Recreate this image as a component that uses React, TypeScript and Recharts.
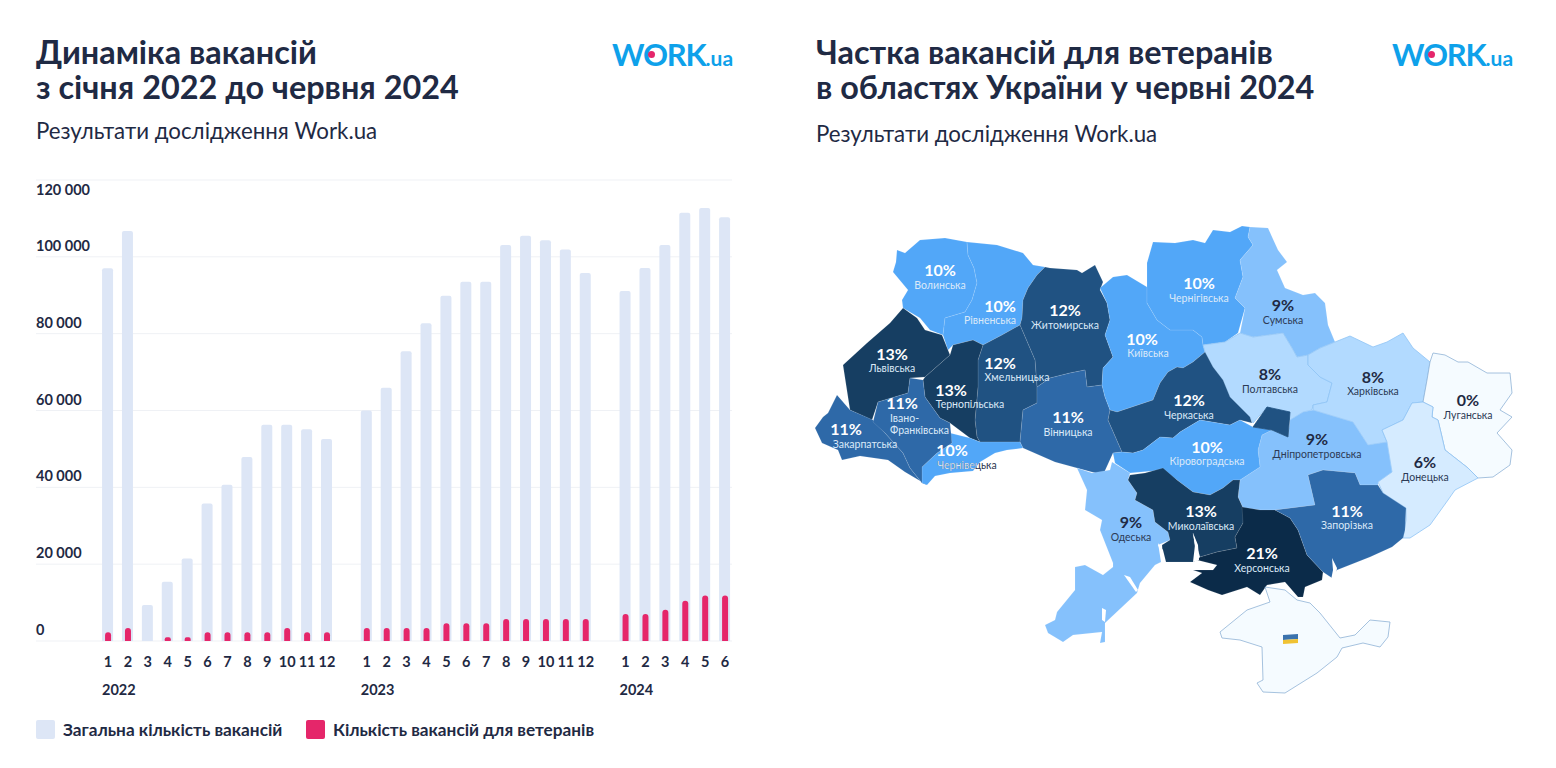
import { BarChart, Bar, XAxis, YAxis, CartesianGrid, ScatterChart, Scatter } from "recharts";

const FONT = "Lato, 'Open Sans', sans-serif";
const INK = "#1f2a44";

// left chart
const years = [2022, 2023, 2024];
const totals2022 = [97000, 106700, 9350, 15400, 21500, 35800, 40700, 47900, 56300, 56300, 55100, 52600];
const totals2023 = [60000, 65900, 75400, 82700, 89900, 93500, 93500, 103100, 105500, 104300, 101900, 95800];
const totals2024 = [91100, 97100, 103100, 111500, 112700, 110300];
const veterans2022 = [2250, 3380, 0, 950, 950, 2250, 2250, 2250, 2250, 3380, 2250, 2250];
const veterans2023 = [3400, 3400, 3400, 3400, 4590, 4590, 4590, 5700, 5700, 5700, 5700, 5700];
const veterans2024 = [7000, 7000, 8140, 10480, 11860, 11860];
const yTicks = [0, 20000, 40000, 60000, 80000, 100000, 120000];
const seriesNames = ["Загальна кількість вакансій", "Кількість вакансій для ветеранів"];

const allTotals = [totals2022, totals2023, totals2024];
const allVeterans = [veterans2022, veterans2023, veterans2024];

const rows: { slot: number; month: number; year: number; total: number; veterans: number }[] = [];
let nextSlot = 0;
allTotals.forEach((list, y) => {
  list.forEach((total, m) => {
    rows.push({ slot: nextSlot++, month: m + 1, year: years[y], total, veterans: allVeterans[y][m] });
  });
  nextSlot++; // empty slot between years
});
const slotDomain = [-3.618, 31.35];

function formatThousands(v: number) {
  return v === 0 ? "0" : `${v / 1000} 000`;
}

function YTick({ y, payload }: any) {
  // the top label sits under its grid line, the others above
  const dy = payload.value === 120000 ? 10 : -11;
  return (
    <text x={36} y={y + dy} dy={5} fontFamily={FONT} fontSize={14.5} fontWeight={700} fill={INK}>
      {formatThousands(payload.value)}
    </text>
  );
}

function MonthTick({ x, payload }: any) {
  const row = rows.find((r) => r.slot === payload.value);
  if (!row) return null;
  return (
    <g>
      <text x={x} y={667} textAnchor="middle" fontFamily={FONT} fontSize={14.5} fontWeight={700} fill={INK}>
        {row.month}
      </text>
      {row.month === 1 && (
        <text x={x - 6} y={695} fontFamily={FONT} fontSize={14.5} fontWeight={700} fill={INK}>
          {row.year}
        </text>
      )}
    </g>
  );
}

// map outlines, in map units
const volyn = [[897,250],[905,253],[920,240],[945,238],[967,242],[968,255],[974,268],[977,283],[972,300],[965,312],[945,318],[943,335],[930,330],[920,318],[903,308],[902,300],[908,290],[893,272],[896,262]];
const rivne = [[967,242],[997,245],[1023,253],[1033,265],[1045,267],[1037,275],[1028,288],[1023,300],[1022,318],[1020,325],[1002,335],[983,345],[973,340],[953,345],[948,350],[943,335],[945,318],[965,312],[972,300],[977,283],[974,268],[968,255]];
const zhytomyr = [[1045,267],[1050,268],[1077,270],[1082,273],[1095,265],[1103,282],[1100,290],[1107,303],[1110,320],[1105,335],[1113,357],[1103,368],[1102,385],[1087,387],[1085,370],[1070,373],[1050,378],[1037,387],[1035,360],[1020,325],[1022,318],[1023,300],[1028,288],[1037,275]];
const khmelnytskyi = [[1020,325],[1002,335],[983,345],[978,360],[978,387],[975,420],[977,437],[980,442],[1020,442],[1023,410],[1037,403],[1037,387],[1035,360]];
const vinnytsia = [[1037,387],[1050,378],[1070,373],[1085,370],[1087,387],[1102,385],[1105,397],[1110,410],[1108,420],[1122,452],[1113,453],[1103,475],[1077,468],[1055,462],[1023,448],[1020,442],[1023,410],[1037,403]];
const lviv = [[903,308],[917,318],[925,330],[942,335],[950,355],[925,377],[910,378],[908,393],[878,402],[872,420],[850,410],[843,365],[867,343],[890,323]];
const ternopil = [[950,355],[953,345],[973,340],[983,345],[978,360],[978,387],[975,420],[977,437],[980,442],[970,438],[950,423],[940,418],[925,397],[923,380],[925,377]];
const frankivsk = [[910,378],[923,380],[925,397],[940,418],[950,423],[952,443],[937,453],[922,467],[922,483],[910,468],[903,453],[885,433],[873,422],[878,402],[908,393]];
const zakarpattia = [[837,395],[850,410],[873,420],[885,433],[903,453],[910,468],[922,483],[927,485],[905,472],[888,460],[860,456],[842,460],[838,450],[822,443],[815,428],[823,417],[828,413]];
const chernivtsi = [[950,433],[970,438],[980,442],[1020,442],[1023,448],[1007,450],[995,453],[980,462],[973,471],[950,473],[935,476],[927,485],[922,483],[922,467],[937,453],[952,443]];
const kyiv = [[1100,288],[1113,277],[1127,275],[1147,287],[1147,303],[1157,320],[1170,330],[1193,330],[1202,337],[1203,345],[1205,352],[1193,362],[1183,368],[1177,367],[1168,372],[1160,383],[1153,400],[1138,405],[1117,412],[1110,410],[1105,397],[1102,385],[1103,368],[1113,357],[1105,335],[1110,320],[1107,303]];
const chernihiv = [[1147,263],[1153,242],[1175,243],[1193,240],[1205,243],[1213,230],[1230,232],[1242,226],[1250,227],[1248,237],[1253,245],[1240,260],[1243,277],[1235,298],[1245,308],[1238,333],[1225,342],[1203,345],[1202,337],[1193,330],[1170,330],[1157,320],[1147,303],[1147,287]];
const sumy = [[1250,227],[1268,228],[1278,250],[1287,262],[1277,270],[1285,288],[1303,295],[1315,293],[1325,303],[1328,325],[1335,342],[1320,348],[1308,355],[1297,357],[1292,348],[1283,333],[1253,337],[1240,333],[1245,308],[1235,298],[1243,277],[1240,260],[1253,245],[1248,237]];
const poltava = [[1203,345],[1225,342],[1240,333],[1253,337],[1283,333],[1292,348],[1297,357],[1308,355],[1308,365],[1320,377],[1332,383],[1327,402],[1313,405],[1312,410],[1303,412],[1290,420],[1267,407],[1253,423],[1250,417],[1230,397],[1223,380],[1213,367],[1205,352]];
const kharkiv = [[1308,355],[1320,348],[1335,342],[1350,336],[1373,347],[1387,342],[1403,333],[1413,348],[1430,362],[1427,380],[1423,402],[1412,403],[1403,420],[1382,430],[1387,442],[1368,445],[1353,422],[1313,410],[1313,405],[1327,402],[1332,383],[1320,377],[1308,365]];
const luhansk = [[1430,362],[1433,353],[1445,355],[1458,362],[1468,362],[1487,373],[1510,373],[1512,393],[1500,410],[1512,417],[1497,433],[1512,450],[1510,465],[1493,477],[1478,478],[1468,468],[1445,450],[1442,437],[1438,420],[1432,417],[1433,407],[1423,402],[1427,380]];
const donetsk = [[1423,402],[1433,407],[1432,417],[1438,420],[1442,437],[1445,450],[1468,468],[1478,478],[1455,490],[1448,500],[1430,525],[1410,538],[1403,538],[1406,520],[1406,508],[1383,493],[1378,482],[1392,472],[1387,442],[1382,430],[1403,420],[1412,403]];
const dnipro = [[1290,420],[1303,412],[1313,410],[1353,422],[1368,445],[1387,442],[1392,472],[1378,482],[1378,485],[1360,485],[1355,473],[1323,470],[1308,475],[1315,505],[1275,510],[1260,510],[1243,508],[1238,497],[1240,480],[1260,467],[1258,450],[1262,435],[1272,430],[1288,437]];
const cherkasy = [[1117,412],[1138,405],[1153,400],[1160,383],[1168,372],[1177,367],[1183,368],[1193,362],[1205,352],[1213,367],[1223,380],[1230,397],[1250,417],[1252,423],[1240,420],[1230,425],[1200,420],[1180,432],[1173,438],[1160,437],[1143,450],[1133,453],[1122,452],[1108,420],[1110,410]];
const cherkasyEast = [[1267,407],[1290,412],[1288,437],[1272,430],[1253,427]];
const kirovohrad = [[1122,452],[1113,453],[1115,463],[1130,473],[1163,470],[1177,480],[1193,492],[1210,495],[1223,488],[1233,480],[1240,480],[1260,467],[1258,450],[1262,435],[1272,430],[1253,427],[1240,420],[1230,425],[1200,420],[1180,432],[1173,438],[1160,437],[1143,450],[1133,453]];
const odesa = [[1077,468],[1092,473],[1110,470],[1112,462],[1130,473],[1128,480],[1137,493],[1135,500],[1153,510],[1155,522],[1168,532],[1170,540],[1158,545],[1165,560],[1155,565],[1140,583],[1137,593],[1105,623],[1105,642],[1100,643],[1102,632],[1073,635],[1063,642],[1048,633],[1045,625],[1055,620],[1057,612],[1075,590],[1075,567],[1085,565],[1103,575],[1113,567],[1113,563],[1100,530],[1102,520],[1085,510],[1087,490]];
const mykolaiv = [[1130,475],[1145,473],[1163,468],[1177,480],[1193,492],[1210,495],[1223,488],[1233,480],[1240,480],[1238,497],[1243,508],[1243,523],[1235,537],[1237,548],[1217,552],[1200,557],[1193,533],[1197,560],[1193,562],[1163,562],[1162,545],[1170,540],[1168,532],[1155,522],[1153,510],[1135,500],[1137,493],[1128,480]];
const kherson = [[1242,507],[1260,510],[1275,510],[1290,518],[1298,530],[1307,555],[1323,572],[1322,580],[1305,587],[1303,597],[1298,597],[1285,582],[1267,585],[1260,595],[1247,587],[1222,595],[1208,590],[1190,582],[1202,573],[1193,570],[1213,570],[1217,565],[1197,560],[1200,557],[1217,552],[1237,548],[1235,537],[1243,523]];
const zaporizhzhia = [[1275,510],[1315,505],[1308,475],[1323,470],[1355,473],[1360,485],[1378,485],[1383,493],[1406,508],[1405,530],[1403,538],[1392,547],[1370,557],[1337,570],[1332,578],[1323,572],[1307,555],[1298,530],[1290,518]];
const crimea = [[1265,587],[1270,602],[1247,610],[1220,632],[1222,638],[1240,640],[1262,647],[1263,680],[1257,683],[1263,692],[1285,693],[1317,673],[1337,657],[1342,648],[1363,643],[1380,647],[1388,637],[1390,622],[1370,620],[1355,635],[1340,638],[1320,613],[1310,603],[1297,600],[1285,590]];
const flagBlue = [[1283,635],[1298,634],[1298,639],[1283,640]];
const flagYellow = [[1283,640],[1298,639],[1298,643],[1283,644]];
// estuaries cut out of the coast
const bugLiman = [[1193,533],[1198,545],[1199,560],[1193,562],[1195,545]];
const berezanLiman = [[1158,543],[1163,550],[1166,562],[1161,562]];
const tylihulLiman = [[1124,575],[1130,577],[1138,590],[1136,592]];
const dniesterLiman = [[1102,608],[1106,610],[1105,622],[1102,620]];
const molochnyLiman = [[1332,558],[1337,568],[1335,582],[1331,580],[1333,570]];

const regionNames = ["Волинська", "Рівненська", "Житомирська", "Хмельницька", "Вінницька", "Львівська", "Тернопільська", "Закарпатська", "Чернівецька", "Київська", "Чернігівська", "Сумська", "Полтавська", "Харківська", "Луганська", "Донецька", "Дніпропетровська", "Черкаська", "Кіровоградська", "Одеська", "Миколаївська", "Херсонська", "Запорізька"];
const regionShares = [10, 10, 12, 12, 11, 13, 13, 11, 10, 10, 10, 9, 8, 8, 0, 6, 9, 12, 10, 9, 13, 21, 11];
const regionOutlines = [volyn, rivne, zhytomyr, khmelnytskyi, vinnytsia, lviv, ternopil, zakarpattia, chernivtsi, kyiv, chernihiv, sumy, poltava, kharkiv, luhansk, donetsk, dnipro, cherkasy, kirovohrad, odesa, mykolaiv, kherson, zaporizhzhia];
const shareAnchors = [[940,270],[1000,306],[1065,310],[1000,363],[1068,417],[892,354],[951,390],[846,429],[952,450],[1142,339],[1199,283],[1283,305],[1270,374],[1373,377],[1468,400],[1425,462],[1317,439],[1189,400],[1207,447],[1131,522],[1201,511],[1262,553],[1347,511]];
const nameAnchors = [[940,285],[990,320],[1065,325],[1017,377],[1068,432],[892,368],[970,404],[865,444],[967,465],[1148,353],[1199,298],[1283,320],[1270,389],[1373,391],[1468,415],[1425,477],[1317,454],[1189,415],[1207,461],[1131,537],[1201,526],[1262,568],[1347,525]];
// this name runs off its region and turns dark where it leaves the map
const overflowingName = "Чернівецька";

const shareColors: Record<number, string> = {
  0: "#f5fbff",
  6: "#d5ebff",
  8: "#b2daff",
  9: "#85c1fc",
  10: "#52a7f8",
  11: "#2e69a8",
  12: "#205282",
  13: "#163e62",
  21: "#0b2b49",
};

type MapRow = { x: number; y: number; outline: number[][]; share: number; name?: string; nameX?: number; nameY?: number; lines?: string[] };

const mapRows: MapRow[] = regionNames.map((name, i) => ({
  x: shareAnchors[i][0],
  y: shareAnchors[i][1],
  outline: regionOutlines[i],
  share: regionShares[i],
  name,
  nameX: nameAnchors[i][0],
  nameY: nameAnchors[i][1],
}));
// Івано-Франківська wraps on two lines, so it is added by itself
mapRows.push({ x: 902, y: 403, outline: frankivsk, share: 11, name: "Івано-Франківська", nameX: 890, nameY: 418, lines: ["Івано-", "Франківська"] });
const extraShapes = [
  { x: 1280, y: 420, outline: cherkasyEast, fill: shareColors[12], stroke: shareColors[12] },
  { x: 1300, y: 640, outline: crimea, fill: "#f5fbff", stroke: "#8fb3d6" },
  { x: 1290, y: 637, outline: flagBlue, fill: "#3b72ad", stroke: "none" },
  { x: 1290, y: 641, outline: flagYellow, fill: "#f0c233", stroke: "none" },
  { x: 1195, y: 550, outline: bugLiman, fill: "#ffffff", stroke: "none" },
  { x: 1161, y: 552, outline: berezanLiman, fill: "#ffffff", stroke: "none" },
  { x: 1130, y: 583, outline: tylihulLiman, fill: "#ffffff", stroke: "none" },
  { x: 1104, y: 615, outline: dniesterLiman, fill: "#ffffff", stroke: "none" },
  { x: 1334, y: 570, outline: molochnyLiman, fill: "#ffffff", stroke: "none" },
];
const overflowRows = mapRows.filter((r) => r.name === overflowingName);

const mapBox = { left: 800, top: 200, width: 756, height: 520 };

function outlinePath(outline: number[][], cx: number, cy: number, ax: number, ay: number) {
  // the axes run 1:1 here, so offsets from the point stay in pixels
  return outline.map((p, i) => `${i ? "L" : "M"}${cx + p[0] - ax},${cy + p[1] - ay}`).join("") + "Z";
}

function RegionShape({ cx, cy, payload }: any) {
  const fill = payload.fill ?? shareColors[payload.share];
  const stroke = payload.stroke ?? (payload.share === 0 ? "#8fb3d6" : payload.share <= 8 ? "#8fc4f5" : "rgba(255,255,255,0.14)");
  return <path d={outlinePath(payload.outline, cx, cy, payload.x, payload.y)} fill={fill} stroke={stroke} strokeWidth={0.8} strokeLinejoin="round" />;
}

function DarkNameUnder({ cx, cy, payload }: any) {
  return (
    <text x={cx + payload.nameX - payload.x} y={cy + payload.nameY - payload.y} dy={4} textAnchor="middle" fontFamily={FONT} fontSize={10.5} fill="#2c3650">
      {payload.name}
    </text>
  );
}

function RegionLabel({ cx, cy, payload }: any) {
  const light = payload.share >= 10;
  const main = light ? "#ffffff" : INK;
  const sub = light ? "#dbe9f8" : "#2c3a55";
  const nx = cx + payload.nameX - payload.x;
  const ny = cy + payload.nameY - payload.y;
  const clipped = payload.name === overflowingName;
  return (
    <g fontFamily={FONT}>
      {clipped && (
        <clipPath id="overflow-name-clip">
          <path d={outlinePath(payload.outline, cx, cy, payload.x, payload.y)} />
        </clipPath>
      )}
      <text x={cx} y={cy} dy={5.5} textAnchor="middle" fontSize={16} fontWeight={700} fill={main}>
        {payload.share}%
      </text>
      {payload.lines ? (
        payload.lines.map((line: string, i: number) => (
          <text key={line} x={nx} y={ny + i * 12} dy={4} fontSize={10.5} fill={sub}>
            {line}
          </text>
        ))
      ) : (
        <text x={nx} y={ny} dy={4} textAnchor="middle" fontSize={10.5} fill={sub} clipPath={clipped ? "url(#overflow-name-clip)" : undefined}>
          {payload.name}
        </text>
      )}
    </g>
  );
}

function Logo({ left }: { left: number }) {
  return (
    <div style={{ position: "absolute", left, top: 35, width: 122, height: 34, fontFamily: FONT, color: "#0ea1ea", whiteSpace: "nowrap" }}>
      <span style={{ fontSize: 31, fontWeight: 700, letterSpacing: -1.2 }}>WORK</span>
      <span style={{ fontSize: 21, fontWeight: 700 }}>.ua</span>
      <div style={{ position: "absolute", left: 36, top: 16, width: 7, height: 7, borderRadius: 4, background: "#e5266a" }} />
    </div>
  );
}

function Header({ left, lines, subTop }: { left: number; lines: string[]; subTop: number }) {
  return (
    <>
      {lines.map((line, i) => (
        <div key={line} style={{ position: "absolute", left, top: 35 + i * 34.5, fontFamily: FONT, fontSize: 32.4, fontWeight: 700, lineHeight: "33px", color: INK, whiteSpace: "nowrap" }}>
          {line}
        </div>
      ))}
      <div style={{ position: "absolute", left, top: subTop, fontFamily: FONT, fontSize: 22.3, lineHeight: "28px", color: INK, whiteSpace: "nowrap" }}>
        Результати дослідження Work.ua
      </div>
    </>
  );
}

export default function App() {
  return (
    <div style={{ position: "absolute", left: 0, top: 0, width: 1556, height: 768, background: "#ffffff", overflow: "hidden" }}>
      <Header left={36} lines={["Динаміка вакансій", "з січня 2022 до червня 2024"]} subTop={117} />
      <Header left={816} lines={["Частка вакансій для ветеранів", "в областях України у червні 2024"]} subTop={120} />
      <Logo left={612} />
      <Logo left={1392} />

      <div style={{ position: "absolute", left: 0, top: 0 }}>
        <BarChart width={770} height={768} data={rows} margin={{ top: 180, right: 38, left: 35, bottom: 67 }}>
          <CartesianGrid vertical={false} stroke="#eff1f5" />
          <XAxis
            type="number"
            dataKey="slot"
            domain={slotDomain}
            allowDataOverflow
            ticks={rows.map((r) => r.slot)}
            interval={0}
            height={60}
            axisLine={false}
            tickLine={false}
            tick={<MonthTick />}
          />
          <XAxis xAxisId="veterans" type="number" dataKey="slot" domain={slotDomain} allowDataOverflow hide />
          <YAxis width={1} domain={[0, 120000]} ticks={yTicks} interval={0} axisLine={false} tickLine={false} tick={<YTick />} />
          <Bar dataKey="total" name={seriesNames[0]} fill="#dde6f6" barSize={11} radius={[2, 2, 0, 0]} isAnimationActive={false} />
          <Bar xAxisId="veterans" dataKey="veterans" name={seriesNames[1]} fill="#e5266a" barSize={6} radius={[3, 3, 0, 0]} isAnimationActive={false} />
        </BarChart>
      </div>

      {seriesNames.map((name, i) => (
        <div key={name} style={{ position: "absolute", left: i === 0 ? 36 : 306, top: 718.5, display: "flex", alignItems: "center", fontFamily: FONT, fontSize: 17.2, fontWeight: 700, color: INK, whiteSpace: "nowrap" }}>
          <span style={{ width: 19, height: 19, borderRadius: 2, marginRight: 8, background: i === 0 ? "#dde6f6" : "#e5266a" }} />
          {name}
        </div>
      ))}

      <div style={{ position: "absolute", left: mapBox.left, top: mapBox.top }}>
        <ScatterChart width={mapBox.width} height={mapBox.height} margin={{ top: 0, right: 0, left: 0, bottom: 0 }}>
          <XAxis type="number" dataKey="x" hide allowDataOverflow domain={[mapBox.left, mapBox.left + mapBox.width]} />
          <YAxis type="number" dataKey="y" hide allowDataOverflow reversed domain={[mapBox.top, mapBox.top + mapBox.height]} />
          <Scatter data={mapRows} isAnimationActive={false} shape={(p: any) => <RegionShape {...p} />} />
          <Scatter data={extraShapes} isAnimationActive={false} shape={(p: any) => <RegionShape {...p} />} />
          <Scatter data={overflowRows} isAnimationActive={false} shape={(p: any) => <DarkNameUnder {...p} />} />
          <Scatter data={mapRows} isAnimationActive={false} shape={(p: any) => <RegionLabel {...p} />} />
        </ScatterChart>
      </div>
    </div>
  );
}
